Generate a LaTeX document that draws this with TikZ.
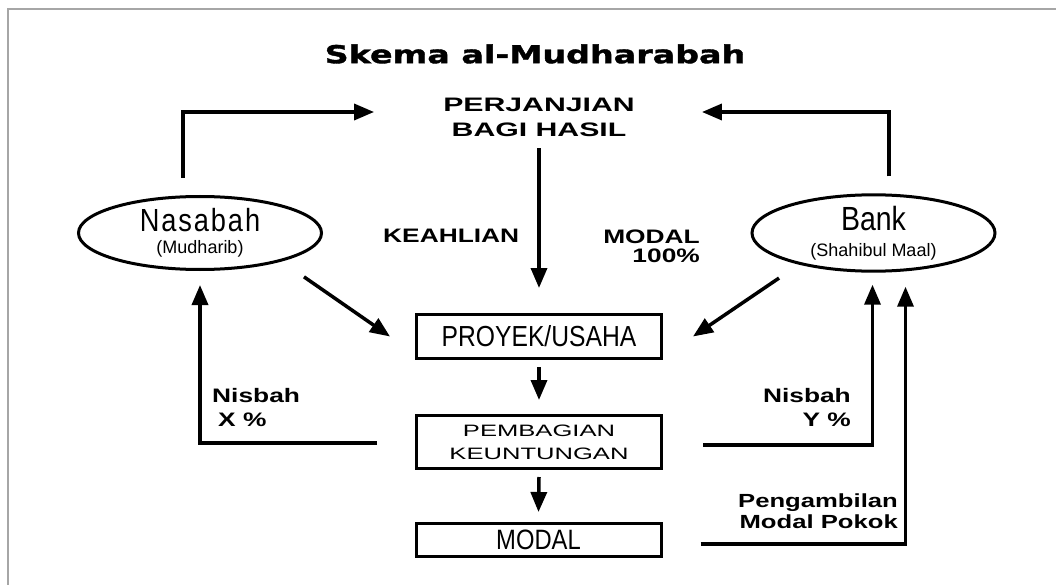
\documentclass[tikz,border=0pt]{standalone}
\usepackage{fontspec}
\setmainfont{Liberation Sans}
\newfontfamily\titlefont[FakeStretch=1.35,FakeBold=1.5]{DejaVu Sans}
\newfontfamily\widefont[FakeStretch=1.35]{Liberation Sans}
\newfontfamily\widerfont[FakeStretch=1.55]{Liberation Sans}
\newfontfamily\condfont[FakeStretch=0.85]{Liberation Sans}
\newfontfamily\condspaced[FakeStretch=0.85,LetterSpace=6]{Liberation Sans}
\usetikzlibrary{arrows.meta,shapes.geometric}

\begin{document}
\begin{tikzpicture}[x=1pt,y=-1pt,
    arr/.style={line width=3.5pt,-{Triangle[length=20pt,width=16pt]}},
    kotak/.style={draw,line width=3pt,inner sep=0pt,minimum width=245pt,align=center},
    elip/.style={draw,ellipse,line width=3pt,inner sep=0pt,minimum width=243pt,
      minimum height=73pt,align=center},
    lbl/.style={inner sep=0pt,font=\widefont\bfseries\fontsize{19.5}{23}\selectfont}]
      \useasboundingbox (0,0) rectangle (1056,585);
      \draw[gray!70,line width=1.2pt] (8,585) -- (8,9) -- (1056,9);

      % judul dan perjanjian
      \node (judul) at (535,54) {\titlefont\bfseries\fontsize{24.7}{28}\selectfont Skema al-Mudharabah};
      \node[inner sep=0pt,align=center,font=\widerfont\bfseries\fontsize{19.5}{25}\selectfont]
        (perj) at (539,117.5) {PERJANJIAN\\BAGI HASIL};

      % pihak
      \node[elip,font=\fontsize{18}{22}\selectfont] (nas) at (200,233)
        {{\condspaced\fontsize{32}{32}\selectfont Nasabah}\\(Mudharib)};
      \node[elip,font=\fontsize{18}{26}\selectfont] (bank) at (873.5,233)
        {{\condfont\fontsize{33.5}{33}\selectfont Bank}\\(Shahibul Maal)};

      % kotak
      \node[kotak,minimum height=44pt,font=\condfont\fontsize{29}{29}\selectfont]
        (proyek) at (539,336.5) {PROYEK/USAHA};
      \node[kotak,minimum height=53pt,font=\widerfont\fontsize{16.5}{23}\selectfont]
        (pemb) at (539,442) {PEMBAGIAN\\KEUNTUNGAN};
      \node[kotak,minimum height=33pt,font=\condfont\fontsize{28}{28}\selectfont]
        (modal) at (538.5,540) {MODAL};

      % label
      \node[lbl,anchor=west] (keahlian) at (383,235.5) {KEAHLIAN};
      \node[lbl,anchor=north east,align=right,font=\widefont\bfseries\fontsize{19.5}{19}\selectfont]
        (modalseratus) at (700,230) {MODAL\hspace{5pt}\\100\%};
      \node[lbl,anchor=north west,align=left,font=\widefont\bfseries\fontsize{19.5}{24}\selectfont]
        (nisbahx) at (212,388) {Nisbah\\\hspace{6pt}X \%};
      \node[lbl,anchor=north east,align=right,font=\widefont\bfseries\fontsize{19.5}{24}\selectfont]
        (nisbahy) at (851,388) {Nisbah\\Y \%};
      \node[lbl,anchor=north east,align=right,font=\widefont\bfseries\fontsize{19}{21}\selectfont]
        (pengambilan) at (898,494) {Pengambilan\\Modal Pokok};

      % panah
      \draw[arr] ([shift={(-17,-17)}]nas.north) |- ([shift={(-69,-5.5)}]perj.west);
      \draw[arr] ([shift={(15.5,-17)}]bank.north) |- ([shift={(67,-5.5)}]perj.east);
      \draw[arr] ([shift={(0,11)}]perj.south) -- ([shift={(0,-25)}]proyek.north);
      \draw[arr] ([shift={(17,17)}]nas.south east) -- ([shift={(-25,0)}]proyek.west);
      \draw[arr] ([shift={(-7.5,17)}]bank.south west) -- ([shift={(30,0)}]proyek.east);
      \draw[arr] ([shift={(0,7)}]proyek.south) -- ([shift={(0,-14)}]pemb.north);
      \draw[arr] ([shift={(0,7)}]pemb.south) -- ([shift={(0,-10)}]modal.north);
      \draw[arr] ([shift={(-38,1)}]pemb.west) -| ([shift={(0,14)}]nas.south);
      \draw[arr] ([shift={(40,3)}]pemb.east) -| ([shift={(-1,12)}]bank.south);
      \draw[arr] ([shift={(38,4)}]modal.east) -| ([shift={(32,14)}]bank.south);
\end{tikzpicture}
\end{document}
